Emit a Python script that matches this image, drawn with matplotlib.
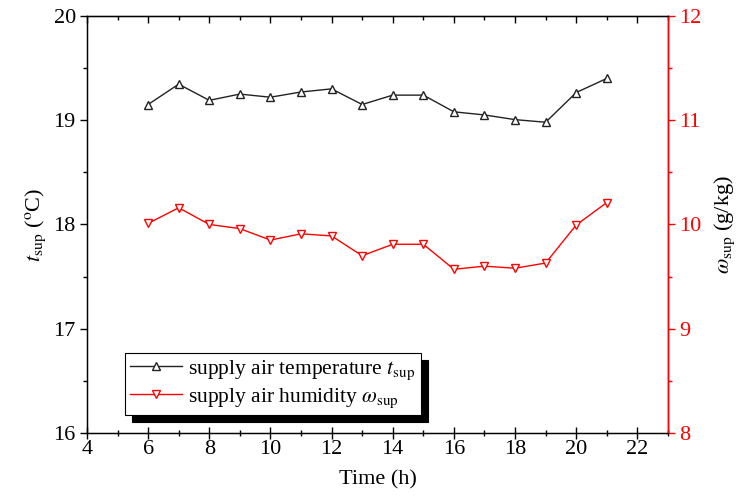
import matplotlib.pyplot as plt
from matplotlib.ticker import MultipleLocator

plt.rcParams['font.family'] = ['Liberation Serif', 'DejaVu Serif']
plt.rcParams['mathtext.fontset'] = 'stix'

# data
hours = [6, 7, 8, 9, 10, 11, 12, 13, 14, 15, 16, 17, 18, 19, 20, 21]
t_sup = [19.15, 19.345, 19.19, 19.25, 19.22, 19.27, 19.30, 19.15,
         19.24, 19.24, 19.08, 19.05, 19.005, 18.98, 19.265, 19.40]
w_sup = [10.01, 10.16, 10.00, 9.96, 9.85, 9.91, 9.89, 9.70,
         9.81, 9.81, 9.57, 9.60, 9.58, 9.63, 9.995, 10.21]

fig = plt.figure(figsize=(7.43, 4.96), dpi=100)
ax = fig.add_axes([0.117, 0.127, 0.782, 0.841])
ax2 = ax.twinx()

l1, = ax.plot(hours, t_sup, color='#222222', lw=1.0, marker='^', ms=6,
              mfc='white', mec='#222222', mew=1.0,
              label=r'supply air temperature $t_{\rm sup}$')
l2, = ax2.plot(hours, w_sup, color='red', lw=1.0, marker='v', ms=6,
               mfc='white', mec='red', mew=1.0,
               label=r'supply air humidity $\omega_{\rm sup}$')

ax.set_xlim(4, 23)
ax.set_ylim(16, 20)
ax2.set_ylim(8, 12)

ax.xaxis.set_major_locator(MultipleLocator(2))
ax.xaxis.set_minor_locator(MultipleLocator(1))
ax.yaxis.set_major_locator(MultipleLocator(1))
ax.yaxis.set_minor_locator(MultipleLocator(0.5))
ax2.yaxis.set_major_locator(MultipleLocator(1))
ax2.yaxis.set_minor_locator(MultipleLocator(0.5))

ax.tick_params(axis='y', which='major', labelsize=16, direction='out', length=5, width=1.0, pad=3)
ax.tick_params(axis='y', which='minor', direction='out', length=3, width=1.0)
ax.tick_params(axis='x', which='major', labelsize=16, direction='inout', length=8, width=1.0, pad=1)
ax.tick_params(axis='x', which='minor', direction='inout', length=5, width=1.0)
ax.tick_params(axis='y', which='both', right=False)
ax2.tick_params(axis='y', which='major', labelsize=16, colors='red', direction='out', length=5, width=1.0, pad=3)
ax2.tick_params(axis='y', which='minor', colors='red', direction='out', length=3, width=1.0)

# top axis: ticks pointing inward, no labels
top = ax.secondary_xaxis('top')
top.xaxis.set_major_locator(MultipleLocator(2))
top.xaxis.set_minor_locator(MultipleLocator(1))
top.tick_params(which='major', direction='in', length=5, width=1.0, labeltop=False)
top.tick_params(which='minor', direction='in', length=3, width=1.0)

for s in ax.spines.values():
    s.set_linewidth(1.0)
ax2.spines['right'].set_color('red')
ax2.spines['right'].set_linewidth(1.0)

ax.set_xlabel('Time (h)', fontsize=16, labelpad=8)
ax.set_ylabel(r'$t_{\rm sup}$ ($^{\rm o}$C)', fontsize=16, labelpad=4)
ax2.set_ylabel(r'$\omega_{\rm sup}$ (g/kg)', fontsize=16, labelpad=8)

leg = ax.legend([l1, l2], [l1.get_label(), l2.get_label()], loc='lower left',
                bbox_to_anchor=(0.065, 0.043), borderaxespad=0, fontsize=15.5,
                frameon=True, fancybox=False, edgecolor='black', framealpha=1,
                shadow={'ox': 5, 'oy': -5, 'color': 'black', 'alpha': 1},
                handlelength=2.4, borderpad=0.25, labelspacing=0.2,
                handletextpad=0.3)
leg.get_frame().set_linewidth(0.8)

fig.savefig('out.png', dpi=100)
